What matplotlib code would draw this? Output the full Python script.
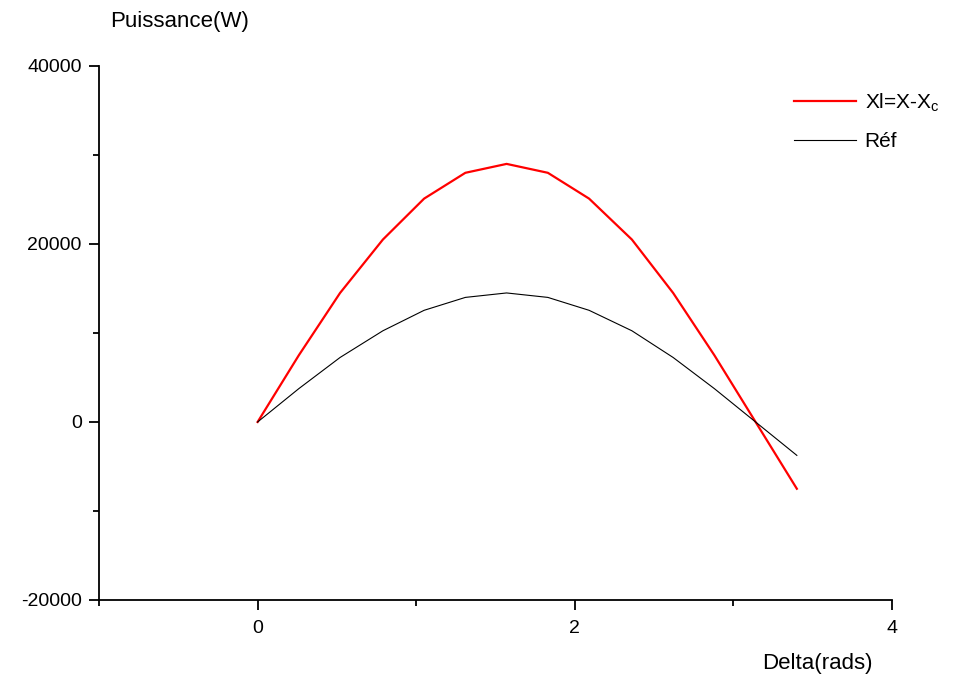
import matplotlib.pyplot as plt
from matplotlib.ticker import MultipleLocator

plt.rcParams['font.family'] = ['Liberation Sans', 'DejaVu Sans']
plt.rcParams['axes.unicode_minus'] = False

# angle (rad) and power (W)
delta = [0, 0.26, 0.52, 0.79, 1.05, 1.31, 1.57, 1.83, 2.09, 2.36, 2.62, 2.88, 3.14, 3.40]
p_comp = [0, 7500, 14500, 20500, 25100, 28000, 29000, 28000, 25100, 20500, 14500, 7500, 0, -7500]
p_ref = [0, 3750, 7250, 10250, 12550, 14000, 14500, 14000, 12550, 10250, 7250, 3750, 0, -3750]

fig = plt.figure(figsize=(9.7, 6.81), dpi=100)
ax = fig.add_axes([99/970, 1 - 600/681, (892-99)/970, (600-66)/681])

ax.plot(delta, p_comp, color='red', lw=1.6, label=r'Xl=X-X$_\mathregular{c}$')
ax.plot(delta, p_ref, color='black', lw=0.8, label='Réf')

ax.set_xlim(-1, 4)
ax.set_ylim(-20000, 40000)
ax.xaxis.set_major_locator(MultipleLocator(2))
ax.xaxis.set_minor_locator(MultipleLocator(1))
ax.yaxis.set_major_locator(MultipleLocator(20000))
ax.yaxis.set_minor_locator(MultipleLocator(10000))
ax.tick_params(which='major', length=7.5, width=1.3, labelsize=14)
ax.tick_params(axis='x', which='major', pad=7)
ax.tick_params(axis='y', which='major', pad=5)
ax.tick_params(which='minor', length=4.5, width=1.3)

for s in ['top', 'right']:
    ax.spines[s].set_visible(False)
for s in ['left', 'bottom']:
    ax.spines[s].set_linewidth(1.3)

fig.text(180/970, 1 - 22/681, 'Puissance(W)', fontsize=16, va='center', ha='center')
fig.text(817/970, 1 - 663/681, 'Delta(rads)', fontsize=16, va='center', ha='center')

fig.legend(loc='upper left', bbox_to_anchor=(775/970, 1 - 73/681), frameon=False,
           fontsize=15, handlelength=3.0, handletextpad=0.4, labelspacing=0.85)

fig.savefig('out.png', dpi=100)
